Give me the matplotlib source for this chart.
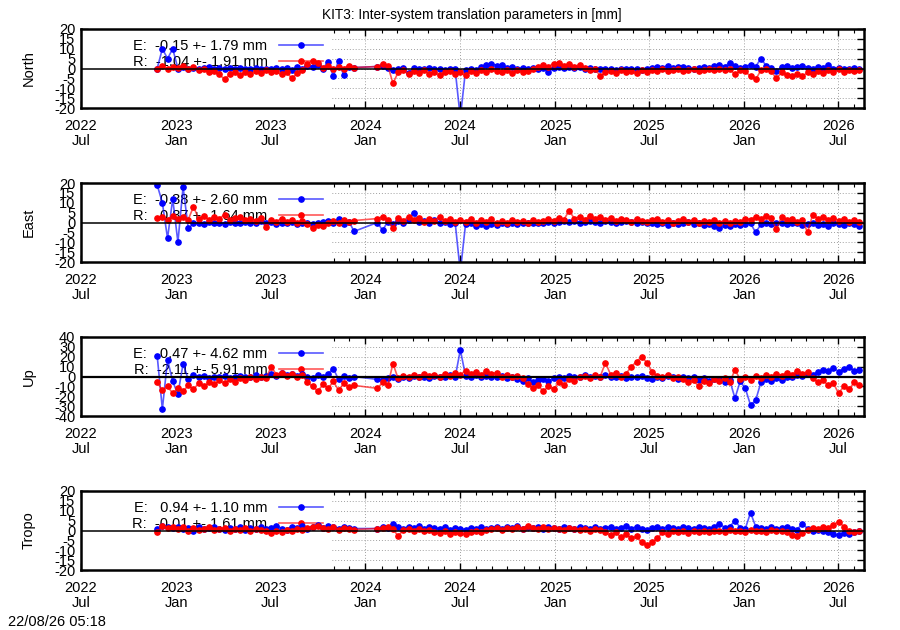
#!/usr/bin/env python3

import numpy as np
import pandas as pd
import matplotlib
matplotlib.use('Agg')
import matplotlib.pyplot as plt
import matplotlib.dates as mdates
from matplotlib.patches import Rectangle

plt.rcParams['font.family'] = ['Liberation Sans', 'DejaVu Sans']
plt.rcParams['axes.unicode_minus'] = False

# sampling dates: two blocks, gap Dec 2023 - Jan 2024
dates = pd.date_range('2022-11-25', periods=39, freq='10D').append(
    pd.date_range('2024-01-24', periods=94, freq='10D'))

north_e = [0, 10, 5, 10, 0, 1, 0, 0.5, -0.5, 0.5, 1, 0, 0.5, -0.5, 0.5, 0, 0.5, 0, -0.5, 0.5,
           0, -0.5, 0, 0.5, -0.5, 0.5, -1, 1, 0, 1.5, 1, 2, 0, 3.5, -4, 4, -3.5, 1, 0.5] + \
          [1, 1.5, 0.5, -1, 0, 0.5, -2.5, 0.5, -0.5, 0,
           0.5, -0.5, 0, -1, 0, -0.5, -25, -1, -0.5, -1,
           1, 2, 2.5, 1.5, 2, 0.5, 1, 0, 0.5, 0,
           0.5, 0, 0.5, -2, 0.5, 1, 0.5, 1, 0.5, 1,
           0, 0.5, -0.5, 0, -0.5, 0, -1, -0.5, 0, -0.5,
           0, -1, -0.5, 0.5, 1, 0.5, 1.5, 0.5, 1, 1,
           0.5, 0, 0.5, 1, 0.5, 1.5, 2, 1, 3, 1.5,
           0.5, 1, 2, 1, 5, 1.5, 0.5, -1.5, 1, 1.5,
           0.5, 1, 1.5, 0.5, 0, 1, 0.5, 2, 0, 0.5,
           -0.5, 0, 0.5, -0.5]
north_r = [0, 1.5, -0.5, 1, 0.5, 1.5, -0.5, 1, -1, 0, -2, -1.5, -3, -5.5, -3, -2, -3.5, -2, -3, -1.5,
           -2.5, -1, -2, -1.5, -3, -2, -5, -2.5, -1, 2.5, 4, 3, 0.5, 1.5, -0.5, 1, 0, 1.5, 0.5] + \
          [1, 2.5, 1.5, -7.5, -2, -1, -3, -1.5, -2.5, -1,
           -3, -2, -3.5, -2, -1.5, -3, -2, -3.5, -1.5, -2.5,
           -1, -2, -0.5, -1.5, -2, -1, -2.5, -1, -2, -1.5,
           -0.5, 1, 2, 1, 2.5, 3, 1.5, 2.5, 1, 2,
           0.5, -1, 0, -4, -2, -1.5, -2.5, -1, -2, -1.5,
           -2.5, -1, -2, -1, -1.5, -0.5, -1.5, -1, -0.5, -1.5,
           -1, -0.5, -1.5, -1, -0.5, -1, 0, -1, -0.5, -3,
           -1, -1.5, -4, -5.5, -1, 0, -1.5, -5, -2, -3.5,
           -4, -3, -4, -2, -3, -1.5, -2.5, -1, -2, -0.5,
           -2, -1, -1.5, -1]

east_e = [19, 10, -8, 12, -10, 18, -3, -0.5, 0, -1, 0.5, -0.5, 0, -1, 0.5, -0.5, 0, 0.5, -0.5, 0,
          1, -0.5, 0.5, -1, 0, -0.5, 0.5, -1, 0, -0.5, -1, 0, 0.5, 1, 0, 2, -1, 0.5, -4.5] + \
         [0, -4, 0.5, -1, 1, 0, 1.5, 5, 0.5, 1,
          0, 1.5, -0.5, 0.5, -1, 0, -25, -1, -0.5, -2,
          -1, -2, -1, -1.5, -0.5, -1, 0, -1, -0.5, 0,
          -0.5, 0, -0.5, 0.5, 0, 0.5, 1, 0.5, 1, 0,
          0.5, 1, 0.5, 0, 1, 0.5, 0, 0.5, 1, 0.5,
          0, 0.5, -0.5, 0, -1, -0.5, -1.5, 0, -1, -0.5,
          0.5, -1, -0.5, -1.5, -1, -2, -3, -1.5, -2, -1,
          -1.5, -1, -0.5, -5, -1, -0.5, -1, -0.5, 0, -1,
          -0.5, 0, -1.5, -1, -0.5, -1.5, -1, -2, -0.5, -1,
          -1.5, -0.5, -1, -2]
east_r = [2.5, 3, 1.5, 3.5, 2, 3, 1.5, 8, 2, 3.5, 1.5, 3, 2, 4, 1.5, 2.5, 3, 1.5, 2, 1,
          2.5, -2.5, 1.5, 0.5, 2, 0.5, 1.5, 0, 1, -1, -3, -1.5, -2, 0, 1, 0, 1.5, 0.5, 1] + \
         [2, 3, 1.5, -3, 2.5, 1, 3, 1.5, 2.5, 0.5,
          2, 1, 3, 1, 2, 0.5, 1.5, 0.5, 2, 0,
          1.5, 0.5, 2, -0.5, 1, 0, 1.5, 0.5, 1, -0.5,
          1.5, 0.5, 1, 2, 1, 2.5, 1.5, 6, 2, 3,
          1.5, 3.5, 2, 3, 1.5, 2.5, 1, 2, 1.5, 0.5,
          2, 1, 0.5, 1.5, 2, 0.5, 1.5, -0.5, 1, 2,
          0.5, 1.5, 0, 1, 0.5, 1.5, 0, 1, -0.5, 1,
          0.5, 2, 1.5, 3, 2, 3.5, 2.5, -3.5, 3, 1.5,
          2, 0.5, 1.5, -5, 4, 2, 3, 1.5, 2.5, 1,
          2, 0.5, 1.5, 0.5]

up_e = [21, -33, 17, -5, -18, 13, -3, 2, -1, 1, -2, 0, -1, 1, -2, 0, 1, -1, 0, 2,
        -0.5, 1, 3, 1, 4, 2, 3, 1, 2.5, 0, -2, 2, -1, 3, 8, -3, 1, -2, 0] + \
       [-3, -4, -2, -1, -3, 0, -2, 1, -1, 0,
        -2, 1, -1, 0, 2, -1, 27, 1, 0, 2,
        0, 1, -1, 0, 1, -2, -1, -3, -5, -2,
        -6, -4, -3, -5, -2, 0, -2, 1, -1, 0,
        2, -1, 1, 0, 2, -1, 0, 1, -2, 0,
        -1, 1, -2, -3, 0, -2, 1, -1, -3, 0,
        -2, -1, -4, -2, -5, -3, -4, -6, -4, -22,
        -5, -12, -29, -24, -6, -3, -5, -2, -4, -1,
        0, 2, 1, 3, 2, 5, 7, 6, 9, 5,
        8, 10, 6, 7]
up_r = [-6, -14, -10, -17, -12, -15, -9, -13, -7, -10, -6, -8, -4, -7, -3, -6, -2, -4, -1, -3,
        0, -2, 10, 2, 4, 1, 3, 0, 2, -6, -10, -15, -8, -12, -5, -14, -7, -11, -9] + \
       [-12, -6, -9, 13, -2, 1, -1, 2, 0, 3,
        1, 2, 0, 3, 1, 4, 2, 6, 3, 5,
        2, 6, 3, 4, 0, 2, -1, 1, -2, -8,
        -12, -9, -15, -10, -13, -6, -9, -3, -5, -1,
        1, -2, 2, 0, 14, 2, 4, 0, 3, 10,
        15, 20, 14, 5, 1, -1, 2, -2, 0, -3,
        -6, -4, -10, -5, -7, -3, -5, -2, -6, 7,
        -3, 0, -4, 1, -2, 2, 0, 3, 1, 4,
        2, 6, 3, 5, -2, -6, -4, -9, -7, -17,
        -10, -13, -6, -9]

tropo_e = [1, 2.5, 2, 1.5, 2, 1, 1.5, 0, 2, 1, 1.5, 2, 1, 0.5, 1.5, 1, 2, 0.5, 1.5, 1,
           2, 1, 1.5, 2.5, 1, 0.5, 2, 1.5, 2.5, 1, 2, 3, 1.5, 2.5, 2, 1, 2, 1.5, 1] + \
          [1, 2, 1.5, 3.5, 2, 1, 2, 1.5, 2.5, 1,
           2, 1.5, 1, 2, 0.5, 1.5, 1, 0.5, 1.5, 1,
           2, 1, 1.5, 2, 1, 2, 1.5, 2.5, 1, 2,
           1.5, 2, 1, 2, 1.5, 1, 2, 1.5, 1, 2,
           1.5, 1, 2, 1, 1.5, 2, 1, 1.5, 2.5, 1,
           2, 1, 0.5, 1.5, 2, 1, 2, 1.5, 1, 2,
           1.5, 1, 2, 1.5, 1, 2, 3.5, 1.5, 2, 5,
           1.5, 1, 9, 2, 1.5, 1, 2, 1, 1.5, 2,
           1, 0.5, 3.5, 1, 0, 0.5, 0, -1, -2, -2.5,
           -1.5, -2, -1, -0.5]
tropo_r = [-1, 2.5, 1.5, 2, 1, 2, 0, 1.5, 0.5, 1, 2, 0.5, 1, 1.5, 0, 1, 0.5, 1.5, 0, 1,
           0.5, -0.5, -1.5, 0, -1, 0.5, 0, 1, 0.5, 1.5, 2, 2.5, 1.5, 1, 2, 0.5, 1.5, 1, 0.5] + \
          [1, 1.5, 2, 1, -3, 0.5, 1, 0, 1, -0.5,
           0.5, -1, -1.5, -0.5, -2, -1, -1.5, -2, -1, 0,
           -1, 0.5, 1, 1.5, 0.5, 1.5, 1, 2, 1, 2.5,
           1.5, 1, 2, 1, 1.5, 1, 0.5, 1.5, 1, 0.5,
           1, 0, 1, 0.5, -1, -2.5, -1, -3.5, -2, -4,
           -3, -6, -7.5, -6, -4, -1, -2, -0.5, -1, 0,
           -1.5, -0.5, -1, 0, -1, -0.5, 0, -1, 0.5, -0.5,
           0, -1, 0.5, -0.5, 0, -1, 0.5, -0.5, 0, -1,
           -2.5, -3, -1.5, 0.5, 1.5, 1, 2, 1.5, 3, 4.5,
           2, 0, -1, -0.5]

panel_names = ['North', 'East', 'Up', 'Tropo']
panel_e = [north_e, east_e, up_e, tropo_e]
panel_r = [north_r, east_r, up_r, tropo_r]
panel_lim = [20, 20, 40, 20]
panel_step = [5, 5, 10, 5]
panel_e_label = ['E:  -0.15 +- 1.79 mm', 'E:  -0.38 +- 2.60 mm', 'E:  -0.47 +- 4.62 mm', 'E:   0.94 +- 1.10 mm']
panel_r_label = ['R:  -1.04 +- 1.91 mm', 'R:   0.87 +- 1.64 mm', 'R:  -2.11 +- 5.91 mm', 'R:  -0.01 +- 1.61 mm']

fig = plt.figure(figsize=(9, 6.3), dpi=100)
fs = 10.5
tops = [29, 183, 337, 491]

for i, name in enumerate(panel_names):
    ax = fig.add_axes([81 / 900, 1 - (tops[i] + 79) / 630, 783 / 900, 79 / 630])
    ax.set_axisbelow(True)
    ax.grid(True, which='major', color='#a0a0a0', linestyle=(0, (1, 2)), linewidth=0.7)
    # white key area hides the grid on the left
    ax.add_patch(Rectangle((0, 0), 0.32, 1, transform=ax.transAxes,
                           facecolor='white', edgecolor='none', zorder=1))

    ax.plot(dates, panel_e[i], color=(0, 0, 1, 0.65), lw=1.2, marker='o', ms=3.8,
            mfc='#0000ff', mec='#0000ff', label=panel_e_label[i], zorder=2)
    ax.plot(dates, panel_r[i], color=(1, 0, 0, 0.65), lw=1.2, marker='o', ms=3.8,
            mfc='#ff0000', mec='#ff0000', label=panel_r_label[i], zorder=2.1)
    ax.axhline(0, color='black', lw=1.6 if name == 'Up' else 1.1, zorder=3)

    leg = ax.legend(loc='upper right', bbox_to_anchor=(0.309, 0.87), frameon=False,
                    markerfirst=False, handlelength=3.0, handletextpad=0.8,
                    labelspacing=0.12, borderpad=0, borderaxespad=0, fontsize=fs)
    leg.set_zorder(1.5)

    lim = panel_lim[i]
    ax.set_ylim(-lim, lim)
    ax.set_yticks(np.arange(-lim, lim + 1, panel_step[i]))
    ax.set_xlim(pd.Timestamp('2022-07-01'), pd.Timestamp('2026-08-20'))
    ax.xaxis.set_major_locator(mdates.MonthLocator(bymonth=[1, 7]))
    ax.xaxis.set_minor_locator(mdates.MonthLocator())
    ax.xaxis.set_major_formatter(mdates.DateFormatter('%Y\n%b'))
    ax.tick_params(which='both', direction='in', top=True, right=True, labelsize=fs)
    ax.tick_params(which='major', length=5, width=1, pad=4)
    ax.tick_params(axis='x', which='major', pad=8)
    ax.tick_params(which='minor', length=3, width=0.8)
    for lbl in ax.get_xticklabels():
        lbl.set_linespacing(1.05)
    for sp in ax.spines.values():
        sp.set_linewidth(1.8)
    ax.set_ylabel(name, fontsize=fs)
    ax.yaxis.set_label_coords(-0.058, 0.5)

fig.text(472 / 900, 1 - 15 / 630, 'KIT3: Inter-system translation parameters in [mm]',
         ha='center', va='center', fontsize=9.8)
fig.text(8 / 900, 1 - 622 / 630, '22/08/26 05:18', ha='left', va='center', fontsize=fs)

plt.savefig('out.png', dpi=100)
